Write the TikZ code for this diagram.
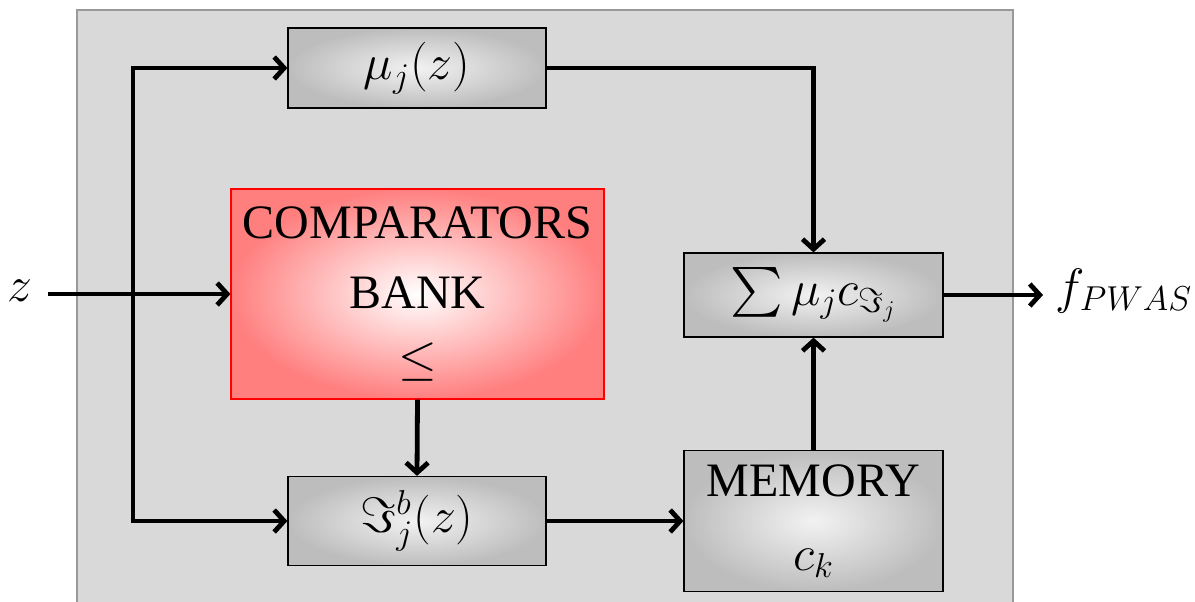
\documentclass[tikz,border=0pt]{standalone}
\usepackage{exscale}
\usepackage[no-math]{fontspec}
\setmainfont{Liberation Serif}
\usetikzlibrary{arrows.meta}
\definecolor{bgc}{HTML}{D9D9D9}
\definecolor{bgb}{HTML}{999999}
\definecolor{gout}{HTML}{BDBDBD}
\definecolor{gin}{HTML}{F2F2F2}
\definecolor{rout}{HTML}{FF7F7F}
\begin{document}
\begin{tikzpicture}[x=0.5pt,y=-0.5pt,
  every node/.style={font=\rmfamily\fontsize{24}{35}\selectfont},
  gbox/.style={draw=black, line width=0.6pt, rectangle, inner sep=0pt,
    inner color=gin, outer color=gout, align=center},
  rbox/.style={draw=red, line width=0.6pt, rectangle, inner sep=0pt,
    inner color=white, outer color=rout, align=center},
  conn/.style={line width=2.4pt, -{Straight Barb[length=5pt,width=11pt]}}]
\clip (0,0) rectangle (1195,601);
\useasboundingbox (0,0) rectangle (1195,601);
\draw[fill=bgc, draw=bgb, line width=1pt] (77,10) rectangle (1013,640);

\node[gbox, minimum width=129pt, minimum height=40pt] (mu) at (417,68) {$\mu_j(z)$};
\node[rbox, minimum width=186.5pt, minimum height=105pt] (comp) at (417.5,294)
  {COMPARATORS\\BANK\\[-2pt]$\leq$};
\node[gbox, minimum width=129.5pt, minimum height=42pt] (sum) at (813.5,295)
  {$\sum \mu_j c_{\Im_j}$};
\node[gbox, minimum width=129pt, minimum height=44.5pt] (J) at (417,521)
  {$\Im_j^b(z)$};
\node[gbox, minimum width=129.5pt, minimum height=70.5pt] (mem) at (813.5,521)
  {MEMORY\\[2pt]$c_k$};

\node (z) at (20,291) {$z$};
\node (f) at (1124,291) {$f_{PWAS}$};
\coordinate (zs) at (48,294);
\coordinate (br) at (133,294);
\coordinate (out) at (1043,295);

\draw[conn] (zs) -- (comp.west);
\draw[conn] (br) |- (mu.west);
\draw[conn] (br) |- (J.west);
\draw[conn] (mu.east) -| (sum.north);
\draw[conn] (comp.south) -- (J.north);
\draw[conn] (J.east) -- (mem.west);
\draw[conn] (mem.north) -- (sum.south);
\draw[conn] (sum.east) -- (out);
\end{tikzpicture}
\end{document}
